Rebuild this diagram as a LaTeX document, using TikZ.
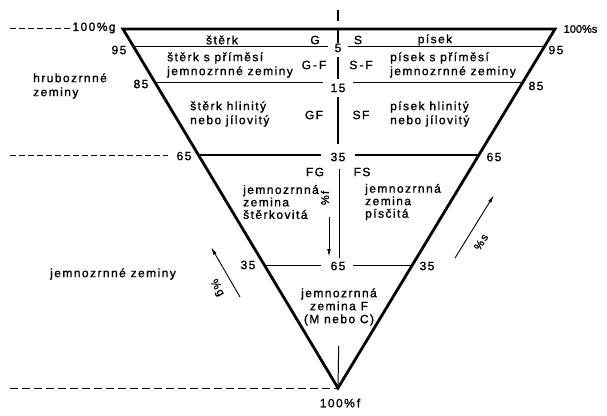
\documentclass[tikz,border=0pt]{standalone}
\usepackage{fontspec}
\setmainfont{Liberation Sans}[LetterSpace=12, FakeBold=1.2]
\usetikzlibrary{calc,arrows.meta}
\begin{document}
\begin{tikzpicture}[x=1pt,y=-1pt,
  font=\fontsize{12}{14}\selectfont,
  edgeline/.style={line width=2.8pt, line join=miter},
  thickrule/.style={line width=2.6pt},
  thinrule/.style={line width=1pt},
  dashrule/.style={line width=0.9pt, dash pattern=on 5.5pt off 3.5pt},
  longdash/.style={line width=0.9pt, dash pattern=on 8pt off 4pt},
  lbl/.style={inner sep=0.5pt},
  clbl/.style={inner xsep=6pt, inner ysep=1pt},
  blk/.style={align=left, anchor=west, inner sep=0pt},
  arr/.style={line width=0.9pt, -{Latex[length=8pt,width=3.6pt]}},
  pct/.style={inner sep=0.5pt}]
\useasboundingbox (0,0) rectangle (607,415);
% triangle vertices
\coordinate (A) at (123,29);
\coordinate (B) at (555,29);
\coordinate (C) at (338,388);
\coordinate (T) at (338,29);
% edge points
\coordinate (l95) at ($(A)!0.0501!(C)$);
\coordinate (r95) at ($(B)!0.0501!(C)$);
\coordinate (l85) at ($(A)!0.1504!(C)$);
\coordinate (r85) at ($(B)!0.1504!(C)$);
\coordinate (l65) at ($(A)!0.351!(C)$);
\coordinate (r65) at ($(B)!0.351!(C)$);
\coordinate (l35) at ($(A)!0.660!(C)$);
\coordinate (r35) at ($(B)!0.660!(C)$);
% centre labels
\node[clbl] (c5) at (338,48) {5};
\node[clbl] (c15) at (338,88) {15};
\node[clbl] (c35) at (338,157) {35};
\node[clbl] (c65) at (338,266) {65};
% edge labels
\node[lbl] (L95) at (119,50) {95};
\node[lbl] (R95) at (556,50) {95};
\node[lbl] (L85) at (141,84) {85};
\node[lbl] (R85) at (536,86) {85};
\node[lbl] (L65) at (184,156) {65};
\node[lbl] (R65) at (494,157) {65};
\node[lbl] (L35) at (248,265) {35};
\node[lbl] (R35) at (427,266) {35};
% corner labels
\node[pct] (g100) at (94,28) {100\%g};
\node[pct, anchor=west, font=\fontsize{11}{13}\selectfont\addfontfeatures{LetterSpace=0}] (s100) at (563,29) {100\%s};
\node[pct] (f100) at (340,403) {100\%\,f};
% triangle
\draw[edgeline] (A) -- (B) -- (C) -- cycle;
% horizontal rules
\draw[thinrule] (l95) -- (c5.west |- l95);
\draw[thinrule] (c5.east |- r95) -- (r95);
\draw[thinrule] (l85) -- ([xshift=-1pt]c15.west |- l85);
\draw[thinrule] ([xshift=1pt]c15.east |- r85) -- (r85);
\draw[thickrule] (l65) -- ([xshift=-3pt]c35.west |- l65);
\draw[thickrule] ([xshift=3pt]c35.east |- r65) -- (r65);
\draw[thinrule] (l35) -- ([xshift=-3pt]c65.west |- l35);
\draw[thinrule] ([xshift=1pt]c65.east |- r35) -- (r35);
% centre vertical
\coordinate (stub1) at (338,10);
\coordinate (stub2) at (338,21);
\draw[line width=1.1pt] (stub1) -- (stub2);
\draw[thickrule] (T) -- (c5.north);
\draw[thickrule, shorten <=4pt, shorten >=4pt] (c5.south) -- (c15.north);
\draw[thickrule, shorten <=4pt, shorten >=8pt] (c15.south) -- (c35.north);
\draw[thinrule, shorten <=7pt, shorten >=3pt] ([xshift=1pt]c35.south) -- ([xshift=1pt]c65.north);
% dashed guide lines
\coordinate (d1) at (10,28);
\coordinate (d2) at (10,155);
\coordinate (d3) at (10,388);
\draw[dashrule] (d1) -- ([xshift=-2pt]g100.west);
\draw[dashrule] (d2) -- ([xshift=-8pt]L65.west |- d2);
\draw[longdash] (d3) -- (C);
% region texts
\node[lbl] (t1) at (222,40) {štěrk};
\node[lbl] (t2) at (315,40) {G};
\node[lbl] (t3) at (358,40) {S};
\node[lbl] (t4) at (435,40) {písek};
\node[blk] (t5) at (167,65) {štěrk s příměsí\\jemnozrnné zeminy};
\node[lbl] (t6) at (314,65) {G\,-\,F};
\node[lbl] (t7) at (361,65) {S\,-\,F};
\node[blk] (t8) at (390,65) {písek s příměsí\\jemnozrnné zeminy};
\node[blk] (t9) at (190,114) {štěrk hlinitý\\nebo jílovitý};
\node[lbl] (t10) at (314,115) {GF};
\node[lbl] (t11) at (361,115) {SF};
\node[blk] (t12) at (390,114) {písek hlinitý\\nebo jílovitý};
\node[lbl] (t13) at (315,172) {FG};
\node[lbl] (t14) at (362,172) {FS};
\node[blk, font=\fontsize{12}{12.5}\selectfont] (t15) at (243,202) {jemnozrnná\\zemina\\štěrkovitá};
\node[blk, font=\fontsize{12}{12.5}\selectfont] (t16) at (365,202) {jemnozrnná\\zemina\\písčitá};
\node[align=center, inner sep=0pt, font=\fontsize{12}{13}\selectfont] (t17) at (339,307) {jemnozrnná\\zemina F\\(M nebo C)};
\node[blk] (t18) at (33,86) {hrubozrnné\\zeminy};
\node[blk] (t19) at (50,274) {jemnozrnné zeminy};
% bottom vertical
\draw[thinrule, shorten <=20pt] (t17.south) -- (C);
% arrows
\coordinate (ga1) at (240,297);
\coordinate (ga2) at (211,247);
\draw[arr] (ga1) -- (ga2);
\node[pct, rotate=-60, font=\fontsize{11}{13}\selectfont] (gp) at (217,288) {\%\kern1.5pt g};
\coordinate (sa1) at (455,258);
\coordinate (sa2) at (494,195);
\draw[arr] (sa1) -- (sa2);
\node[pct, rotate=58, font=\fontsize{11}{13}\selectfont] (sp) at (481,242) {\%\kern1.5pt s};
\coordinate (fa1) at (329,217);
\coordinate (fa2) at (329,257);
\draw[arr] (fa1) -- (fa2);
\node[pct, rotate=90, font=\fontsize{11}{13}\selectfont] (fp) at (325,198) {\%f};
\end{tikzpicture}
\end{document}
